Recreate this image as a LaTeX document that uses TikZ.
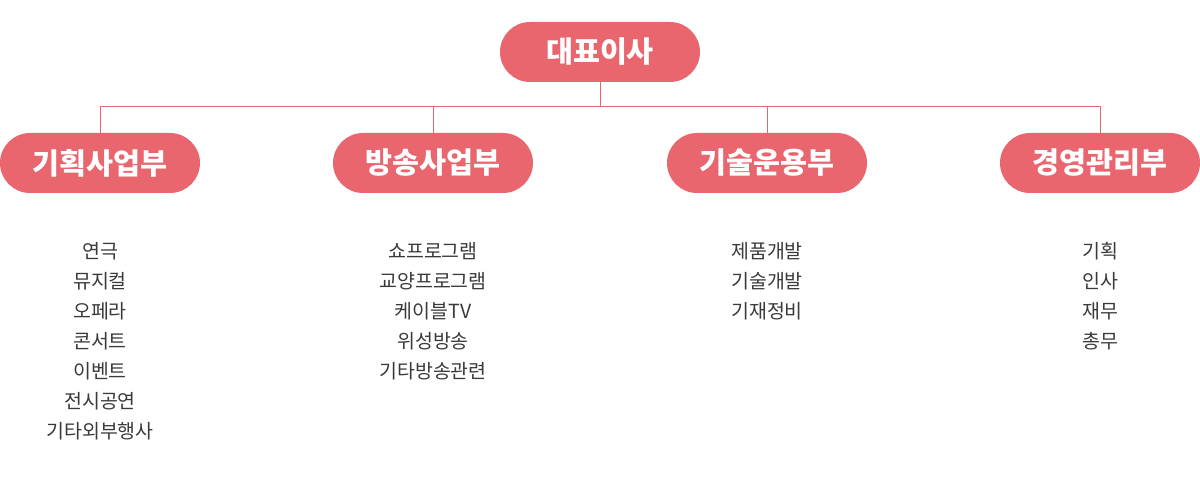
\documentclass[tikz,border=0pt]{standalone}
\usepackage{fontspec}
\setmainfont{Noto Sans CJK KR}
\usepackage{xcolor}
\usepackage{tikz}
\usetikzlibrary{positioning}
\definecolor{orgPink}{HTML}{E9666F}
\definecolor{orgText}{HTML}{3A3A3A}
\tikzset{
  orgbox/.style={fill=orgPink, text=white, rounded corners=22.5pt, inner sep=0pt,
                 minimum width=150pt, minimum height=45pt,
                 font=\fontsize{22}{24}\selectfont\bfseries},
  orglist/.style={anchor=north, align=center, inner sep=0pt, text=orgText,
                  font=\fontsize{14.6}{22.5}\selectfont},
  orgline/.style={draw=orgPink, line width=0.75pt},
}

\begin{document}
\begin{tikzpicture}[x=0.75pt, y=-0.75pt]
\useasboundingbox (0,0) rectangle (1200,491);
\node[orgbox] (ceo) at (600,52) {대표이사};
\coordinate (bus) at (600,107);
\node[orgbox] (plan) at (100,163) {기획사업부};
\node[orgbox] (cast) at (433,163) {방송사업부};
\node[orgbox] (tech) at (767,163) {기술운용부};
\node[orgbox] (mgmt) at (1100,163) {경영관리부};

\node[orglist] (planlist) at (100,242) {연극\\뮤지컬\\오페라\\콘서트\\이벤트\\전시공연\\기타외부행사};
\node[orglist] (castlist) at (433,242) {쇼프로그램\\교양프로그램\\케이블TV\\위성방송\\기타방송관련};
\node[orglist] (techlist) at (767,242) {제품개발\\기술개발\\기재정비};
\node[orglist] (mgmtlist) at (1100,242) {기획\\인사\\재무\\총무};

\draw[orgline] (ceo.south) -- (bus);
\draw[orgline] (plan.north) |- (bus);
\draw[orgline] (cast.north) |- (bus);
\draw[orgline] (tech.north) |- (bus);
\draw[orgline] (mgmt.north) |- (bus);
\end{tikzpicture}
\end{document}
